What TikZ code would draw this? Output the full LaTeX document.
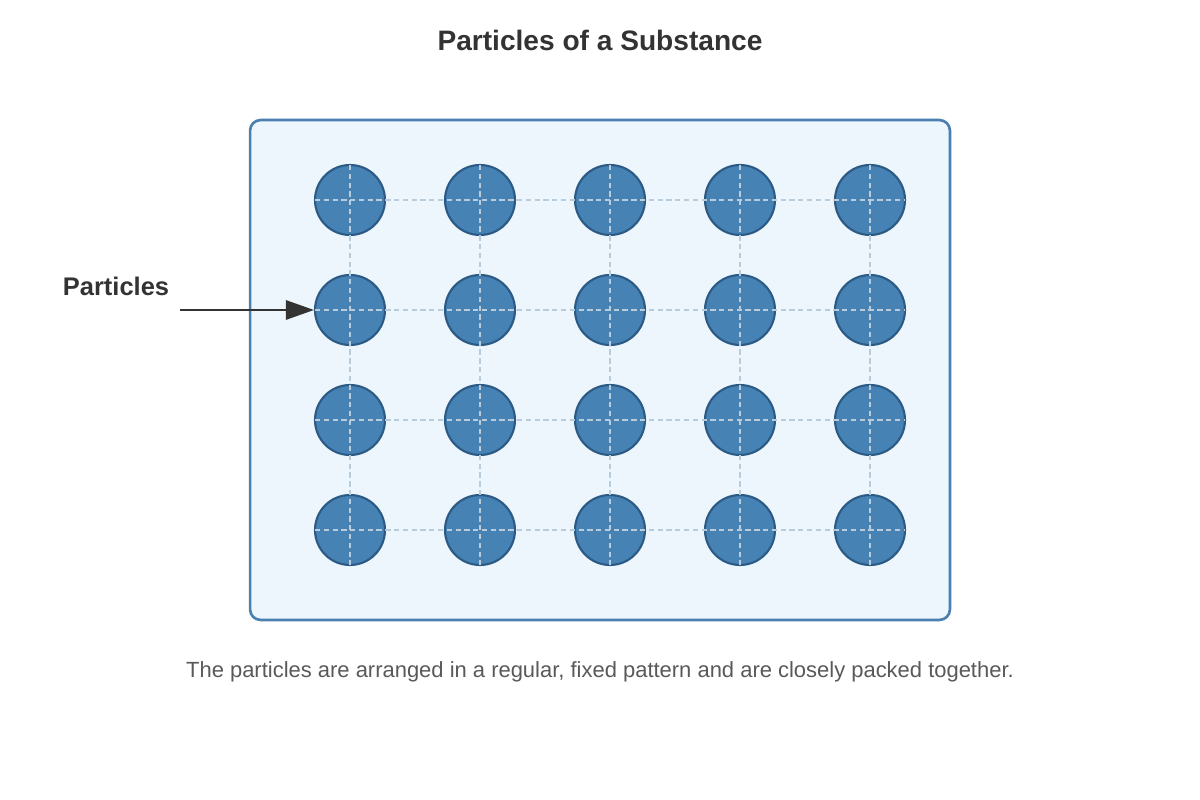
\documentclass[tikz,border=0pt]{standalone}
\usepackage{fontspec}
\setmainfont{Liberation Sans}
\usetikzlibrary{arrows.meta}
\definecolor{boxline}{HTML}{4A7FAF}
\definecolor{boxfill}{HTML}{EEF6FD}
\definecolor{pfill}{HTML}{4682B4}
\definecolor{pline}{HTML}{2B5A84}
\definecolor{gridc}{HTML}{B8CCDC}
\definecolor{dark}{HTML}{333333}
\begin{document}
\begin{tikzpicture}[x=0.02cm,y=-0.02cm,
  particle/.style={circle,draw=pline,line width=1.2pt,fill=pfill,minimum size=1.4cm,inner sep=0pt},
  gridline/.style={draw=gridc,dash pattern=on 3pt off 2pt,line width=0.6pt}]
\useasboundingbox (0,0) rectangle (1200,800);
\node[font=\bfseries\fontsize{16}{19}\selectfont,text=dark] (title) at (600,40) {Particles of a Substance};
\node[draw=boxline,line width=1.5pt,fill=boxfill,rounded corners=6pt,minimum width=14cm,minimum height=10cm] (box) at (600,370) {};
\foreach \c [count=\i] in {350,480,610,740,870}
  \foreach \r [count=\j] in {200,310,420,530}
    \node[particle] (p\i\j) at (\c,\r) {};
\foreach \r in {200,310,420,530}
  \draw[gridline] (315,\r) -- (905,\r);
\foreach \c in {350,480,610,740,870}
  \draw[gridline] (\c,165) -- (\c,565);
\node[font=\bfseries\fontsize{14.5}{17}\selectfont,text=dark] (lab) at (116,286) {Particles};
\coordinate (as) at (180,310);
\draw[dark,line width=1.2pt,-{Triangle[length=16pt,width=11pt]}] (as) -- (p12.west);
\node[font=\fontsize{12.5}{15}\selectfont,text=black!65] (cap) at (600,672) {The particles are arranged in a regular, fixed pattern and are closely packed together.};
\end{tikzpicture}
\end{document}
